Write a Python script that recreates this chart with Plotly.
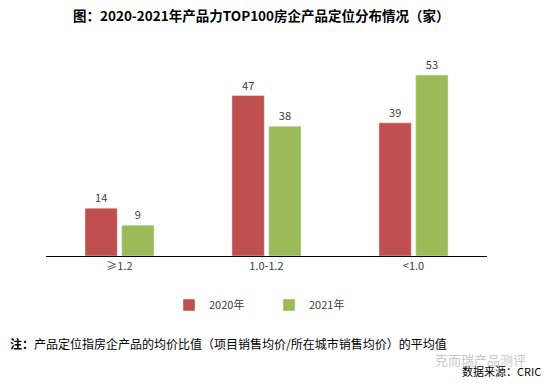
import plotly.graph_objects as go

categories = ["≥1.2", "1.0-1.2", "<1.0"]
values_2020 = [14, 47, 39]
values_2021 = [9, 38, 53]
series_names = ["2020年", "2021年"]

font_cjk = "Noto Sans CJK SC"

W, H = 547, 387
l, r, t, b = 46, 60, 60, 131
pw, ph = W - l - r, H - t - b
def px(x): return (x - l) / pw
def py(y): return (H - b - y) / ph

fig = go.Figure()
fig.add_trace(go.Bar(x=categories, y=values_2020, name=series_names[0],
                     marker_color="#C0504D", text=values_2020, textposition="outside",
                     textfont=dict(size=11, color="#404040"), cliponaxis=False))
fig.add_trace(go.Bar(x=categories, y=values_2021, name=series_names[1],
                     marker_color="#9BBB59", text=values_2021, textposition="outside",
                     textfont=dict(size=11, color="#404040"), cliponaxis=False))

fig.update_layout(
    width=W, height=H,
    margin=dict(l=l, r=r, t=t, b=b, autoexpand=False),
    paper_bgcolor="white", plot_bgcolor="white",
    barmode="group", bargap=0.5, bargroupgap=0.12,
    font=dict(family=font_cjk, size=11, color="#404040"),
    showlegend=True,
    legend=dict(orientation="h", x=px(169), xanchor="left", y=py(305), yanchor="middle",
                font=dict(size=11, color="#404040"), itemwidth=30,
                entrywidth=55, entrywidthmode="pixels"),
    xaxis=dict(showline=True, linecolor="#000000", linewidth=1, ticks="",
               tickfont=dict(size=11, color="#404040"), fixedrange=True),
    yaxis=dict(range=[0, 57.4], visible=False, showgrid=False),
    annotations=[
        dict(text="<b>图：2020-2021年产品力TOP100房企产品定位分布情况（家）</b>",
             xref="paper", yref="paper", x=px(261.5), y=py(15),
             xanchor="center", yanchor="middle", showarrow=False,
             font=dict(size=13.5, color="#000000", family=font_cjk)),
        dict(text="<b>注：</b>产品定位指房企产品的均价比值（项目销售均价/所在城市销售均价）的平均值",
             xref="paper", yref="paper", x=px(8), y=py(343),
             showarrow=False, xanchor="left", yanchor="middle",
             font=dict(size=12, color="#000000", family=font_cjk)),
        dict(text="克而瑞产品测评", xref="paper", yref="paper", x=px(528), y=py(359),
             showarrow=False, xanchor="right", yanchor="middle",
             font=dict(size=13, color="#C8C8C8")),
        dict(text="数据来源：CRIC", xref="paper", yref="paper", x=px(543), y=py(371),
             showarrow=False, xanchor="right", yanchor="middle",
             font=dict(size=11, color="#000000")),
    ],
)

fig.write_html("out.html", config={"displayModeBar": False},
               post_script="document.body.style.margin='0';document.body.style.overflow='hidden';")
